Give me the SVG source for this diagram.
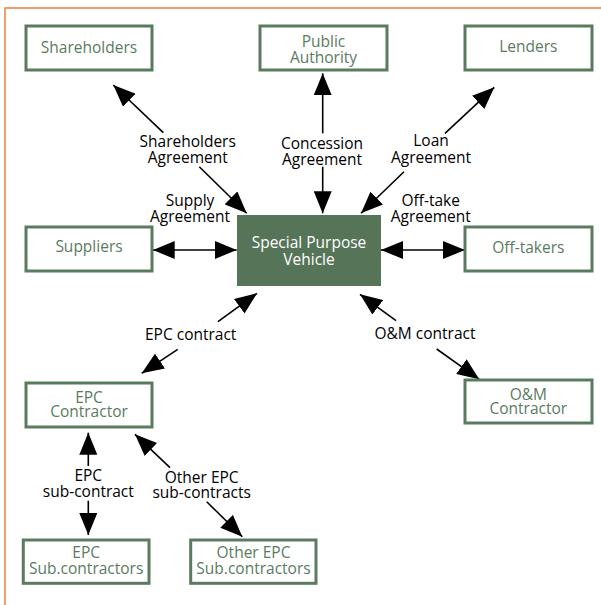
<svg xmlns="http://www.w3.org/2000/svg" width="601" height="605" viewBox="0 0 601 605">
<style>
.box{fill:#fff;stroke:#5b7b5f;stroke-width:3}
.spv{fill:#567558;stroke:none}
.nt{font-family:"Open Sans","Noto Sans",sans-serif;font-size:15.5px;fill:#5b7b5f;text-anchor:middle}
.wt{font-family:"Open Sans","Noto Sans",sans-serif;font-size:15.5px;fill:#fff;text-anchor:middle}
.lt{font-family:"Open Sans","Noto Sans",sans-serif;font-size:15.5px;fill:#000;text-anchor:middle}
.c{stroke:#000;stroke-width:1.6;fill:none;marker-end:url(#ah)}
.d{marker-start:url(#ah)}
</style>
<defs>
<marker id="ah" viewBox="0 0 22 18" refX="22" refY="9" markerWidth="22" markerHeight="18" markerUnits="userSpaceOnUse" orient="auto-start-reverse">
<path d="M0,0 L22,9 L0,18 z" fill="#000"/>
</marker>
</defs>
<rect width="601" height="605" fill="#fff"/>
<path d="M5,605 L5,8 L601,8" fill="none" stroke="#ef7d3b" stroke-width="1.5"/>
<g id="connectors">
<line class="c" x1="163.3" y1="132.7" x2="113.3" y2="85"/>
<line class="c" x1="199.3" y1="166.7" x2="246.7" y2="213.3"/>
<line class="c" x1="322.7" y1="133.3" x2="322.7" y2="73.3"/>
<line class="c" x1="322.7" y1="166.7" x2="322.7" y2="213.3"/>
<line class="c" x1="445" y1="133.3" x2="494.3" y2="87.3"/>
<line class="c" x1="404" y1="171.7" x2="361" y2="213.3"/>
<line class="c d" x1="152.7" y1="250" x2="236.7" y2="250"/>
<line class="c d" x1="381" y1="250" x2="465" y2="250"/>
<line class="c" x1="218" y1="321.7" x2="257" y2="293.3"/>
<line class="c" x1="177.7" y1="349.3" x2="141.7" y2="373.3"/>
<line class="c" x1="396" y1="320.7" x2="360" y2="294.3"/>
<line class="c" x1="436.7" y1="349" x2="479.3" y2="379.3"/>
<line class="c" x1="88.3" y1="466" x2="88.3" y2="432.7"/>
<line class="c" x1="88.3" y1="500.7" x2="88.3" y2="535"/>
<line class="c" x1="170" y1="467.7" x2="135" y2="434.3"/>
<line class="c" x1="206.7" y1="501.7" x2="242.3" y2="536.7"/>
</g>
<g id="labels">
<text class="lt" x="187.7" y="146.7">Shareholders<tspan x="187.7" dy="16">Agreement</tspan></text>
<text class="lt" x="322" y="149">Concession<tspan x="322" dy="16">Agreement</tspan></text>
<text class="lt" x="431" y="145.7">Loan<tspan x="431" dy="17">Agreement</tspan></text>
<text class="lt" x="190" y="206">Supply<tspan x="190" dy="16">Agreement</tspan></text>
<text class="lt" x="430.7" y="206">Off-take<tspan x="430.7" dy="16">Agreement</tspan></text>
<text class="lt" x="190.7" y="340">EPC contract</text>
<text class="lt" x="425" y="339.3">O&amp;M contract</text>
<text class="lt" x="88.3" y="481">EPC<tspan x="88.3" dy="15.7">sub-contract</tspan></text>
<text class="lt" x="201.7" y="482.7">Other EPC<tspan x="201.7" dy="15">sub-contracts</tspan></text>
</g>
<g id="shareholders"><rect class="box" x="26" y="26" width="126" height="44"/><text class="nt" x="89" y="52.7">Shareholders</text></g>
<g id="public-authority"><rect class="box" x="260" y="26" width="127" height="44"/><text class="nt" x="323.5" y="46.7">Public<tspan x="323.5" dy="16">Authority</tspan></text></g>
<g id="lenders"><rect class="box" x="465" y="26" width="127" height="44"/><text class="nt" x="528.3" y="51.7">Lenders</text></g>
<g id="suppliers"><rect class="box" x="26" y="227" width="126" height="44"/><text class="nt" x="89" y="252">Suppliers</text></g>
<g id="spv"><rect class="spv" x="237" y="215" width="144" height="71"/><text class="wt" x="309" y="247.5">Special Purpose<tspan x="309" dy="17.5">Vehicle</tspan></text></g>
<g id="off-takers"><rect class="box" x="465" y="227" width="127" height="44"/><text class="nt" x="528.3" y="253">Off-takers</text></g>
<g id="epc-contractor"><rect class="box" x="26" y="383" width="126" height="44"/><text class="nt" x="89" y="402.7">EPC<tspan x="89" dy="14">Contractor</tspan></text></g>
<g id="om-contractor"><rect class="box" x="465" y="380" width="127" height="43"/><text class="nt" x="528.3" y="400">O&amp;M<tspan x="528.3" dy="14">Contractor</tspan></text></g>
<g id="epc-sub"><rect class="box" x="23.3" y="540" width="125.7" height="43.3"/><text class="nt" x="86.2" y="558.3">EPC<tspan x="86.2" dy="15.7">Sub.contractors</tspan></text></g>
<g id="other-epc-sub"><rect class="box" x="190.7" y="540" width="125.3" height="43.3"/><text class="nt" x="253.5" y="558.3">Other EPC<tspan x="253.5" dy="15.7">Sub.contractors</tspan></text></g>
</svg>
